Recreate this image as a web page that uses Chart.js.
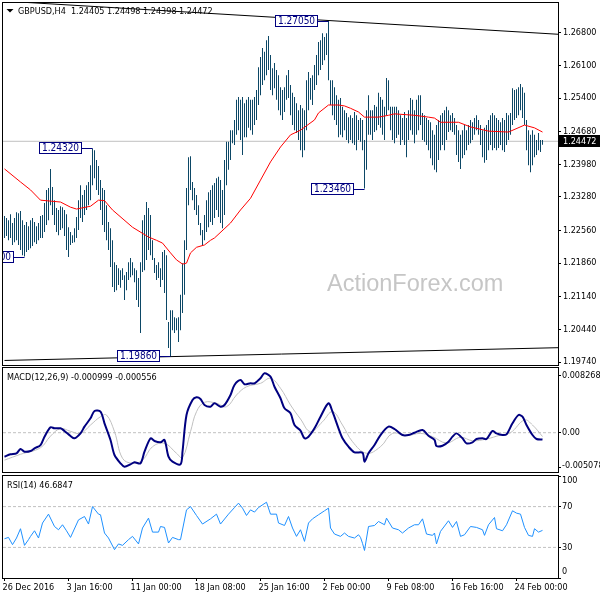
<!DOCTYPE html>
<html>
<head>
<meta charset="utf-8">
<script src="https://cdn.jsdelivr.net/npm/chart.js@4.4.0/dist/chart.umd.min.js"></script>
<style>
  html, body { margin: 0; padding: 0; background: #fff; }
  #wrap { position: relative; width: 600px; height: 600px; }
  #wrap canvas { position: absolute; left: 0; top: 0; }
</style>
</head>
<body>
<div id="wrap">
  <canvas id="priceChart" width="600" height="600"></canvas>
  <canvas id="macdChart" width="600" height="600"></canvas>
  <canvas id="rsiChart" width="600" height="600"></canvas>
</div>
<script>
var FONT = '"DejaVu Sans Condensed", "Liberation Sans", sans-serif';
Chart.defaults.font.family = FONT;
Chart.defaults.font.size = 9;
Chart.defaults.color = '#000';

// H4 bars, index 0 = 26 Dec 2016 00:00
var highs = [
  1.2287,1.2283,1.2278,1.2291,1.2272,1.2283,1.2295,1.2293,1.2298,1.2278,
  1.2268,1.2274,1.2265,1.2278,1.2283,1.2274,1.2265,1.2272,1.2287,1.2289,
  1.2315,1.2343,1.2347,1.2388,1.2349,1.2321,1.2304,1.2300,1.2308,1.2306,
  1.2300,1.2291,1.2263,1.2253,1.2246,1.2261,1.2285,1.2321,1.2353,1.2332,
  1.2343,1.2353,1.2360,1.2396,1.2432,1.2428,1.2407,1.2394,1.2364,1.2347,
  1.2343,1.2310,1.2274,1.2261,1.2235,1.2188,1.2182,1.2175,1.2171,1.2175,
  1.2160,1.2167,1.2188,1.2197,1.2188,1.2175,1.2171,1.2154,1.2188,1.2278,
  1.2289,1.2317,1.2304,1.2289,1.2235,1.2197,1.2182,1.2188,1.2175,1.2210,
  1.2214,1.2203,1.2060,1.2085,1.2085,1.2070,1.2068,1.2070,1.2118,1.2186,
  1.2235,1.2347,1.2413,1.2415,1.2360,1.2347,1.2332,1.2310,1.2272,1.2257,
  1.2289,1.2321,1.2338,1.2343,1.2353,1.2358,1.2368,1.2371,1.2364,1.2343,
  1.2407,1.2446,1.2446,1.2471,1.2471,1.2493,1.2536,1.2542,1.2536,1.2542,
  1.2529,1.2536,1.2542,1.2536,1.2536,1.2542,1.2557,1.2606,1.2628,1.2647,
  1.2639,1.2664,1.2673,1.2632,1.2604,1.2615,1.2600,1.2589,1.2563,1.2557,
  1.2563,1.2589,1.2600,1.2568,1.2551,1.2542,1.2529,1.2514,1.2525,1.2518,
  1.2514,1.2578,1.2596,1.2583,1.2589,1.2611,1.2632,1.2660,1.2664,1.2679,
  1.2671,1.2679,1.2705,1.2578,1.2578,1.2563,1.2546,1.2536,1.2540,1.2521,
  1.2514,1.2508,1.2499,1.2503,1.2497,1.2510,1.2503,1.2493,1.2497,1.2493,
  1.2450,1.2514,1.2546,1.2514,1.2514,1.2525,1.2521,1.2551,1.2542,1.2536,
  1.2521,1.2583,1.2578,1.2521,1.2521,1.2521,1.2521,1.2514,1.2503,1.2497,
  1.2510,1.2497,1.2514,1.2540,1.2536,1.2514,1.2536,1.2546,1.2546,1.2508,
  1.2503,1.2497,1.2493,1.2488,1.2471,1.2461,1.2482,1.2493,1.2503,1.2508,
  1.2514,1.2521,1.2514,1.2503,1.2508,1.2497,1.2482,1.2471,1.2461,1.2471,
  1.2482,1.2471,1.2482,1.2493,1.2488,1.2497,1.2503,1.2493,1.2482,1.2471,
  1.2476,1.2482,1.2493,1.2503,1.2508,1.2503,1.2497,1.2493,1.2488,1.2497,
  1.2493,1.2508,1.2503,1.2508,1.2561,1.2557,1.2559,1.2563,1.2570,1.2563,
  1.2551,1.2493,1.2471,1.2461,1.2471,1.2461,1.2450,1.2465,1.2450,1.24498
];
var lows = [
  1.2240,1.2244,1.2235,1.2240,1.2225,1.2231,1.2235,1.2225,1.2214,1.2203,
  1.2200,1.2210,1.2214,1.2218,1.2223,1.2231,1.2227,1.2235,1.2240,1.2240,
  1.2253,1.2268,1.2278,1.2310,1.2289,1.2268,1.2253,1.2246,1.2257,1.2261,
  1.2244,1.2214,1.2199,1.2225,1.2229,1.2231,1.2240,1.2257,1.2283,1.2274,
  1.2289,1.2300,1.2310,1.2321,1.2353,1.2368,1.2343,1.2332,1.2300,1.2268,
  1.2253,1.2235,1.2214,1.2178,1.2135,1.2124,1.2128,1.2139,1.2133,1.2150,
  1.2107,1.2128,1.2150,1.2156,1.2160,1.2145,1.2107,1.2092,1.2036,1.2167,
  1.2171,1.2193,1.2214,1.2203,1.2193,1.2165,1.2150,1.2154,1.2135,1.2150,
  1.2122,1.2064,1.2004,1.1986,1.2042,1.2036,1.2042,1.2017,1.2042,1.2079,
  1.2118,1.2214,1.2310,1.2343,1.2321,1.2300,1.2289,1.2268,1.2246,1.2225,
  1.2235,1.2253,1.2263,1.2274,1.2268,1.2283,1.2300,1.2285,1.2272,1.2261,
  1.2289,1.2353,1.2386,1.2407,1.2443,1.2439,1.2461,1.2471,1.2450,1.2418,
  1.2456,1.2456,1.2476,1.2471,1.2461,1.2482,1.2493,1.2525,1.2546,1.2568,
  1.2578,1.2589,1.2600,1.2557,1.2546,1.2561,1.2536,1.2514,1.2503,1.2493,
  1.2510,1.2536,1.2540,1.2503,1.2482,1.2471,1.2465,1.2450,1.2428,1.2413,
  1.2428,1.2471,1.2514,1.2536,1.2525,1.2557,1.2568,1.2589,1.2600,1.2611,
  1.2621,1.2632,1.2578,1.2525,1.2503,1.2493,1.2482,1.2456,1.2461,1.2456,
  1.2471,1.2450,1.2443,1.2450,1.2443,1.2439,1.2428,1.2450,1.2446,1.2428,
  1.2346,1.2386,1.2461,1.2461,1.2450,1.2467,1.2471,1.2482,1.2476,1.2461,
  1.2450,1.2503,1.2514,1.2471,1.2450,1.2443,1.2454,1.2461,1.2439,1.2450,
  1.2439,1.2413,1.2450,1.2471,1.2461,1.2443,1.2461,1.2471,1.2482,1.2450,
  1.2446,1.2439,1.2428,1.2411,1.2396,1.2386,1.2381,1.2407,1.2428,1.2439,
  1.2428,1.2450,1.2467,1.2471,1.2467,1.2461,1.2418,1.2403,1.2388,1.2411,
  1.2418,1.2428,1.2439,1.2443,1.2450,1.2461,1.2471,1.2461,1.2439,1.2413,
  1.2401,1.2407,1.2428,1.2439,1.2428,1.2433,1.2428,1.2433,1.2439,1.2428,
  1.2424,1.2439,1.2450,1.2461,1.2482,1.2493,1.2497,1.2503,1.2514,1.2497,
  1.2482,1.2428,1.2396,1.2381,1.2396,1.2413,1.2418,1.2428,1.2424,1.24398
];
var lastPrice = 1.24472;

// moving average (red), read at these bar indices
var maIdx = [0,8,13,18,23,28,33,36,43,47,50,54,64,72,76,79,83,86,89,91,93,96,100,103,105,113,118,123,128,133,
  138,143,148,155,157,162,167,170,173,177,180,187,192,195,205,212,215,218,227,233,242,252,260,265,269];
var maValues = [1.2388,1.2360,1.2343,1.2321,1.2319,1.2317,1.2306,1.2302,1.2308,1.2321,1.2320,1.2300,1.2263,1.2242,1.2235,
  1.2229,1.2208,1.2193,1.2184,1.2186,1.2208,1.2220,1.2225,1.2235,1.2240,1.2272,1.2300,1.2325,1.2364,1.2403,
  1.2435,1.2461,1.2471,1.2493,1.2508,1.2525,1.2525,1.2523,1.2518,1.2510,1.2499,1.2499,1.2503,1.2506,1.2503,
  1.2499,1.2497,1.2488,1.2488,1.2478,1.2469,1.2467,1.2482,1.2476,1.2467];

// trend lines: value at bar 0 and bar 277
var trendIdx = [0, 277];
var upperTrend = [1.27477, 1.26766];
var lowerTrend = [1.19774, 1.20048];

// marked swing highs / lows
var swingIdx = [162, 44, 180, 83, 10];
var swingPrices = [1.27050, 1.24320, 1.23460, 1.19860, 1.22000];

// MACD(12,26,9)
var macdIdx = [0,3,6,8,10,13,15,18,20,23,25,28,30,33,35,38,40,43,45,48,50,53,55,58,60,63,65,68,70,73,
  75,78,80,82,84,88,89,91,94,96,98,100,103,105,108,110,113,115,118,120,123,125,128,130,133,135,138,140,143,145,
  148,150,152,155,158,162,164,167,169,172,175,179,180,182,185,188,192,195,199,202,205,209,212,215,216,219,222,224,226,229,
  231,234,236,239,241,244,246,249,251,254,257,259,261,264,266,269];
var macdValues = [-0.0035,-0.00315,-0.0030,-0.00238,-0.00277,-0.00267,-0.00228,-0.0018,-0.00058,0.00079,
  0.00064,0.00064,0.00025,-0.00048,-0.00082,-0.0001,0.00088,0.0021,0.00316,0.00306,
  0.00137,-0.00106,-0.00325,-0.00446,-0.00496,-0.00461,-0.00432,-0.00446,-0.00277,-0.00082,
  -0.00121,-0.0014,-0.00106,-0.0035,-0.00423,-0.00461,-0.00277,0.00258,0.00477,0.00516,
  0.00491,0.00404,0.00379,0.00429,0.00379,0.00404,0.0055,0.00696,0.00768,0.00706,
  0.0072,0.0072,0.00793,0.00866,0.00817,0.0067,0.00502,0.00356,0.00283,0.00112,
  0.0003,-0.00082,-0.00058,0.00064,0.00233,0.00429,0.00306,0.00064,-0.00082,-0.00204,
  -0.00286,-0.00292,-0.00423,-0.003,-0.0018,-0.00034,0.00088,0.00054,-0.00034,-0.00034,
  0,0.0004,-0.00044,-0.00106,-0.00194,-0.0019,-0.00131,-0.00058,-0.0001,-0.00082,
  -0.00155,-0.0014,-0.00092,-0.00082,-0.00092,0.00025,-0.0001,-0.00034,-0.00024,0.00137,
  0.00258,0.00233,0.00112,-0.00034,-0.00092,-0.0010];
var signalIdx = [0,8,18,23,28,33,38,43,48,51,55,59,64,69,74,80,86,89,93,96,
  100,106,111,116,121,128,133,138,143,148,153,159,164,169,174,181,188,194,201,208,
  214,221,228,234,241,248,253,260,264,269];
var signalValues = [-0.004,-0.00315,-0.00219,-0.0005,0.0006,0.0002,-0.0001,0.00112,0.00233,0.00258,
  0.00015,-0.00373,-0.00446,-0.004,-0.00204,-0.00155,-0.003,-0.00365,0.00015,0.00306,
  0.00443,0.00429,0.00379,0.0055,0.0067,0.0072,0.00793,0.00648,0.00404,0.002,
  0.00015,0.0016,0.00306,0.00112,-0.00131,-0.003,-0.00204,-0.0001,-0.00044,-0.0001,
  -0.00058,-0.0015,-0.00067,-0.00117,-0.00092,-0.00034,0,0.00185,0.00112,-0.00056];

// RSI(14)
var rsiIdx = [0,2,4,6,8,10,12,13,15,17,19,22,25,27,29,31,33,37,40,42,
  44,47,48,50,52,55,57,59,62,64,67,69,72,74,77,78,80,82,84,87,
  88,91,93,96,99,103,106,108,112,115,117,119,121,123,125,127,131,133,136,137,
  140,142,144,146,148,150,152,154,157,160,162,163,165,168,170,172,175,177,178,179,
  180,182,185,187,190,191,194,197,199,202,205,207,209,211,214,215,216,218,222,224,
  226,228,230,233,236,239,240,242,245,246,249,251,254,256,258,260,262,264,265,267,269];
var rsiValues = [38.5,39.8,32.7,39.2,48.3,32,37.6,40.8,46.3,39.2,53.9,62.6,50.5,47.3,52.2,46.3,39.8,57,60.3,52.9,
  70,62.6,62,44.1,39.2,27.8,33.4,32,37.6,40.8,33.4,49,58.7,45,45,50.5,49.6,34.3,39.8,37.6,
  37.6,66.8,70,61.3,52.9,58,62.6,52.9,62.6,69.1,73.4,68.5,61.3,66.8,64.6,69.1,74.3,62.6,62.6,53.9,
  51.5,60.3,49,40.8,47.3,35.9,53.9,58,62,65.9,68.5,49,43.1,40.8,44.1,40.8,39.2,42.4,39.8,34,
  27,50.5,51.5,55.4,52.2,58.7,49,47.3,44.1,49,52.2,52.2,58,43.1,41.8,44.1,33.4,45.7,56.1,49.6,
  55.4,40.8,42.4,50.5,49.6,47.3,41.8,52.2,59.3,48.3,46.3,52.2,65.9,63.6,62.6,49.6,41.8,40.8,48.3,45,46.68];

// axis ticks
var priceTicks = [1.19740,1.20440,1.21140,1.21860,1.22560,1.23280,1.23980,1.24680,1.25400,1.26100,1.26800];
var macdTicks = [0.008268, 0, -0.005078];
var macdTickLabels = ['0.008268', '0.00', '-0.005078'];
var rsiTicks = [100, 70, 30, 0];
var rsiLevels = [70, 30];
var dateTicks = [0, 32, 64, 96, 128, 160, 192, 224, 256];
var dateLabels = ['26 Dec 2016', '3 Jan 16:00', '11 Jan 00:00', '18 Jan 08:00', '25 Jan 16:00',
  '2 Feb 00:00', '9 Feb 08:00', '16 Feb 16:00', '24 Feb 00:00'];

var X_MIN = -0.75, X_MAX = 276.75;

function pts(idx, vals) {
  return idx.map(function (x, k) { return { x: x, y: vals[k] }; });
}
function flat(v) {
  return [{ x: X_MIN, y: v }, { x: X_MAX, y: v }];
}

function xScale(show) {
  return {
    type: 'linear', min: X_MIN, max: X_MAX, offset: false, display: show,
    grid: { drawOnChartArea: false, tickLength: 3, color: '#000' },
    border: { display: false },
    afterBuildTicks: function (s) { s.ticks = dateTicks.map(function (v) { return { value: v }; }); },
    ticks: {
      autoSkip: false, maxRotation: 0, align: 'start', labelOffset: -2, padding: 1,
      callback: function (v, k) { return dateLabels[k]; }
    },
    afterFit: function (s) {
      s.height = show ? 22 : 0;
      s.paddingLeft = 0; s.paddingRight = 0;
    }
  };
}

function yScale(min, max, tickValues, showLabels) {
  return {
    position: 'right', min: min, max: max, bounds: 'data',
    grid: { drawOnChartArea: false, tickLength: 3, color: '#000' },
    border: { display: false },
    afterBuildTicks: function (s) { s.ticks = tickValues.map(function (v) { return { value: v }; }); },
    ticks: { display: showLabels, autoSkip: false, padding: 2, callback: function (v) { return v.toFixed(5); } },
    afterFit: function (s) { s.width = 42; s.paddingTop = 0; s.paddingBottom = 0; }
  };
}

var framePlugin = {
  id: 'frame',
  afterDraw: function (chart) {
    var a = chart.chartArea, ctx = chart.ctx;
    ctx.save();
    ctx.strokeStyle = '#000';
    ctx.lineWidth = 1;
    ctx.strokeRect(a.left - 0.5, a.top - 0.5, a.right - a.left + 1, a.bottom - a.top + 1);
    ctx.restore();
  }
};

function panelText(title, values, texts) {
  return {
    id: 'panelText',
    afterDraw: function (chart) {
      var ctx = chart.ctx, a = chart.chartArea, s = chart.scales.y;
      ctx.save();
      ctx.font = '9px ' + FONT;
      ctx.fillStyle = '#000';
      ctx.textAlign = 'left';
      ctx.textBaseline = 'alphabetic';
      ctx.fillText(title, 7, a.top + 12);
      ctx.textBaseline = 'middle';
      values.forEach(function (v, k) {
        var y = Math.min(Math.max(s.getPixelForValue(v), a.top + 5), a.bottom - 6);
        ctx.fillText(texts[k], a.right + 4, y);
      });
      ctx.restore();
    }
  };
}

var priceDecor = {
  id: 'priceDecor',
  beforeDatasetsDraw: function (chart) {
    var ctx = chart.ctx;
    ctx.save();
    ctx.font = '23.5px "Liberation Sans", Arial, sans-serif';
    ctx.fillStyle = '#c6c6c6';
    ctx.textBaseline = 'alphabetic';
    ctx.fillText('ActionForex.com', 327, 291);
    ctx.font = '9px ' + FONT;
    ctx.fillStyle = '#000';
    ctx.fillText('GBPUSD,H4  1.24405 1.24498 1.24398 1.24472', 18, 13.5);
    ctx.beginPath();
    ctx.moveTo(6.5, 9); ctx.lineTo(13.5, 9); ctx.lineTo(10, 12.5); ctx.closePath();
    ctx.fill();
    ctx.restore();
  },
  afterDatasetsDraw: function (chart) {
    var ctx = chart.ctx, a = chart.chartArea, xs = chart.scales.x, ys = chart.scales.y;
    ctx.save();
    ctx.beginPath();
    ctx.rect(a.left, a.top, a.right - a.left, a.bottom - a.top);
    ctx.clip();
    ctx.font = '10px ' + FONT;
    ctx.lineWidth = 1;
    ctx.textAlign = 'center';
    ctx.textBaseline = 'middle';
    swingIdx.forEach(function (i, k) {
      var px = xs.getPixelForValue(i), py = Math.round(ys.getPixelForValue(swingPrices[k]));
      var t = swingPrices[k].toFixed(5);
      var w = Math.round(ctx.measureText(t).width) + 6;
      var r = Math.round(px - 11), l = r - w, top = py - 6;
      ctx.fillStyle = '#fff';
      ctx.fillRect(l, top, w, 12);
      ctx.strokeStyle = '#000080';
      ctx.strokeRect(l + 0.5, top + 0.5, w - 1, 11);
      ctx.beginPath();
      ctx.moveTo(r, py + 0.5); ctx.lineTo(px, py + 0.5);
      ctx.stroke();
      ctx.fillStyle = '#000080';
      ctx.fillText(t, l + w / 2, top + 6.5);
    });
    ctx.restore();
  },
  afterDraw: function (chart) {
    var ctx = chart.ctx, a = chart.chartArea, ys = chart.scales.y;
    var py = Math.round(ys.getPixelForValue(lastPrice));
    ctx.save();
    ctx.fillStyle = '#000';
    ctx.fillRect(a.right + 1, py - 6, 600 - a.right - 1, 12);
    ctx.font = '9px ' + FONT;
    ctx.fillStyle = '#fff';
    ctx.textBaseline = 'middle';
    ctx.fillText(lastPrice.toFixed(5), a.right + 5, py + 0.5);
    ctx.restore();
  }
};

var common = {
  responsive: false, animation: false, devicePixelRatio: 1, events: [],
  plugins: { legend: { display: false }, tooltip: { enabled: false } }
};
function opts(padding, scales) {
  return Object.assign({}, common, { layout: { padding: padding }, scales: scales });
}

new Chart(document.getElementById('priceChart'), {
  type: 'line',
  data: {
    datasets: [
      { label: 'Upper trend', data: pts(trendIdx, upperTrend), borderColor: '#000', borderWidth: 1, pointRadius: 0, order: 1 },
      { label: 'Lower trend', data: pts(trendIdx, lowerTrend), borderColor: '#000', borderWidth: 1, pointRadius: 0, order: 1 },
      { label: 'MA', data: pts(maIdx, maValues), borderColor: '#ff0000', borderWidth: 1, pointRadius: 0, order: 2 },
      {
        type: 'bar', label: 'GBPUSD',
        data: highs.map(function (h, i) { return { x: i, y: [lows[i], h] }; }),
        backgroundColor: '#0c4766', barThickness: 1, borderWidth: 0, inflateAmount: 0, order: 3
      },
      { label: 'Last', data: flat(lastPrice), borderColor: '#c0c0c0', borderWidth: 1, pointRadius: 0, order: 4 }
    ]
  },
  options: opts({ top: 3, bottom: 235, left: 3, right: 0 }, {
    x: xScale(false),
    y: yScale(1.196766, 1.274366, priceTicks, true)
  }),
  plugins: [priceDecor, framePlugin]
});

new Chart(document.getElementById('macdChart'), {
  type: 'line',
  data: {
    datasets: [
      { label: 'MACD', data: pts(macdIdx, macdValues), borderColor: '#000080', borderWidth: 2, pointRadius: 0, tension: 0.3, order: 1 },
      { label: 'Signal', data: pts(signalIdx, signalValues), borderColor: '#c0c0c0', borderWidth: 1, pointRadius: 0, tension: 0.4, order: 2 },
      { label: 'Zero', data: flat(0), borderColor: '#c0c0c0', borderWidth: 1, borderDash: [3, 2], pointRadius: 0, order: 3 }
    ]
  },
  options: opts({ top: 368, bottom: 128, left: 3, right: 0 }, {
    x: xScale(false),
    y: yScale(-0.00573, 0.009434, macdTicks, false)
  }),
  plugins: [panelText('MACD(12,26,9) -0.000999 -0.000556', macdTicks, macdTickLabels), framePlugin]
});

new Chart(document.getElementById('rsiChart'), {
  type: 'line',
  data: {
    datasets: [
      { label: 'RSI', data: pts(rsiIdx, rsiValues), borderColor: '#1e90ff', borderWidth: 1, pointRadius: 0, order: 1 },
      { label: 'L70', data: flat(rsiLevels[0]), borderColor: '#c0c0c0', borderWidth: 1, borderDash: [3, 2], pointRadius: 0, order: 2 },
      { label: 'L30', data: flat(rsiLevels[1]), borderColor: '#c0c0c0', borderWidth: 1, borderDash: [3, 2], pointRadius: 0, order: 2 }
    ]
  },
  options: opts({ top: 476, bottom: 0, left: 3, right: 0 }, {
    x: xScale(true),
    y: yScale(0, 100, rsiTicks, false)
  }),
  plugins: [panelText('RSI(14) 46.6847', rsiTicks, rsiTicks.map(String)), framePlugin]
});
</script>
</body>
</html>
